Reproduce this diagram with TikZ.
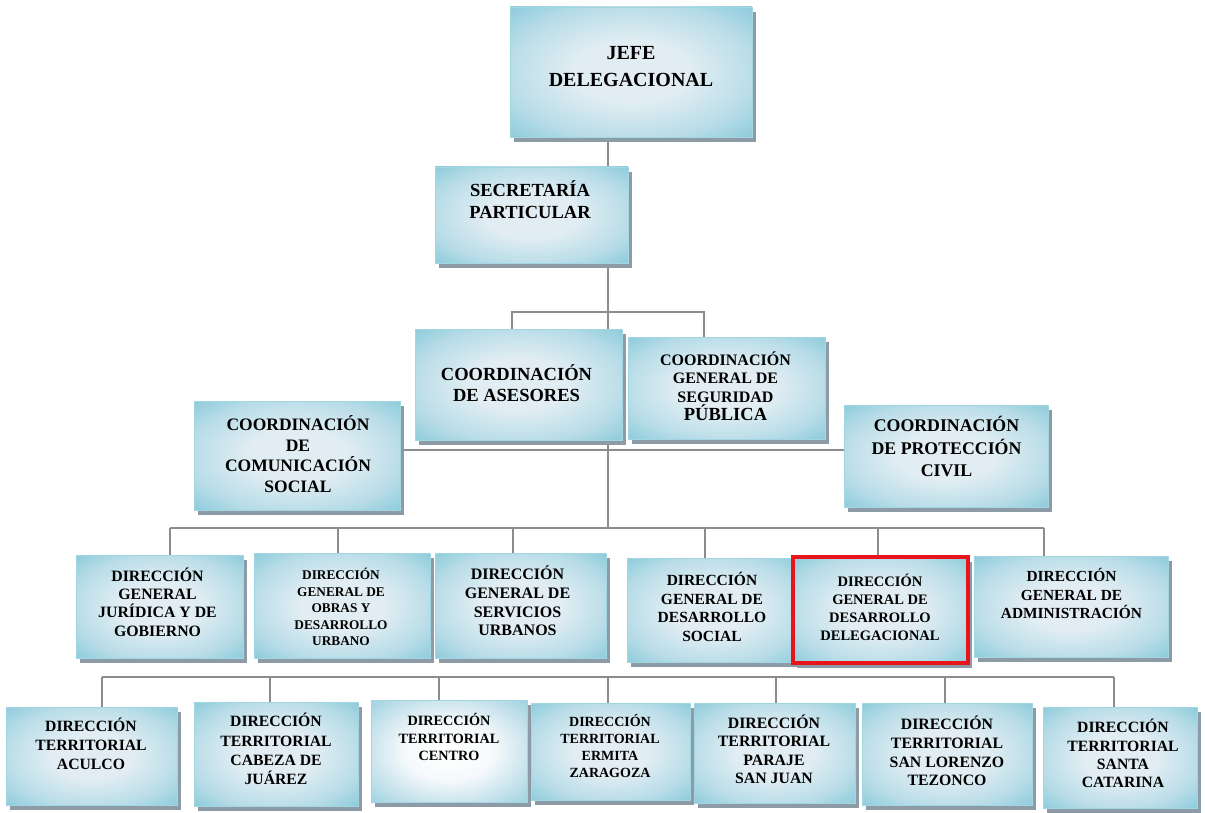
\documentclass[tikz,border=0pt]{standalone}
\usepackage{fontspec}
\setmainfont{Liberation Serif}
\usetikzlibrary{shadows,backgrounds}

\definecolor{azul}{HTML}{8FCCDC}
\definecolor{palido}{HTML}{E1EDF3}
\definecolor{borde}{HTML}{A3D6E3}
\definecolor{sombra}{HTML}{8D9BA7}
\definecolor{linea}{HTML}{8C8C8C}
\definecolor{rojo}{HTML}{E8141B}

\pgfdeclareradialshading{cajas}{\pgfpoint{0bp}{0bp}}{color(0bp)=(palido); color(12bp)=(palido); color(26bp)=(palido!50!azul); color(35bp)=(azul); color(50bp)=(azul)}
\pgfdeclareradialshading{cajaclara}{\pgfpoint{0bp}{0bp}}{color(0bp)=(white); color(14bp)=(white!70!palido); color(26bp)=(palido!70!azul); color(35bp)=(azul!85!white); color(50bp)=(azul!85!white)}

\newcommand{\letra}[2]{\fontsize{#1pt}{#2pt}\selectfont\bfseries}

\tikzset{
  caja/.style={shade, shading=cajas, draw=borde, line width=0.8pt, inner sep=0pt,
    drop shadow={shadow xshift=4pt, shadow yshift=-5pt, fill=sombra, opacity=1}},
  rotulo/.style={align=center, inner sep=0pt},
  conector/.style={draw=linea, line width=1.6pt},
}

\begin{document}
\begin{tikzpicture}[x=1pt,y=-1pt]
\useasboundingbox (0,0) rectangle (1205,813);

% jefe y secretaria
\node[caja, minimum width=242pt, minimum height=130pt] (jefe) at (631,72) {};
\node[rotulo, font=\letra{20}{27}] (tjefe) at (631,67) {JEFE\\DELEGACIONAL};
\node[caja, minimum width=193pt, minimum height=96pt] (sec) at (531.5,215) {};
\node[rotulo, font=\letra{18.5}{22}] (tsec) at (530,200) {SECRETARÍA\\PARTICULAR};

% coordinaciones
\node[caja, minimum width=207pt, minimum height=111pt] (ase) at (518.5,384.5) {};
\node[rotulo, font=\letra{18.5}{21}] (tase) at (516.5,383) {COORDINACIÓN\\DE ASESORES};
\node[caja, minimum width=197pt, minimum height=102pt] (seg) at (726.5,388) {};
\node[rotulo, font=\letra{16}{18.5}] (tseg) at (725.5,386) {COORDINACIÓN\\GENERAL DE\\SEGURIDAD\\{\letra{18.5}{19}PÚBLICA}};
\node[caja, minimum width=206pt, minimum height=109pt] (com) at (297,455.5) {};
\node[rotulo, font=\letra{17.5}{20.7}] (tcom) at (298,454) {COORDINACIÓN\\DE\\COMUNICACIÓN\\SOCIAL};
\node[caja, minimum width=204pt, minimum height=102pt] (pro) at (946,456) {};
\node[rotulo, font=\letra{17.8}{22.5}] (tpro) at (946.5,446.5) {COORDINACIÓN\\DE PROTECCIÓN\\CIVIL};

% direcciones generales
\node[caja, minimum width=167pt, minimum height=103pt] (jur) at (159.5,606.5) {};
\node[rotulo, font=\letra{15.8}{18.3}] (tjur) at (157.5,602) {DIRECCIÓN\\GENERAL\\JURÍDICA Y DE\\GOBIERNO};
\node[caja, minimum width=176pt, minimum height=105pt] (obr) at (342,605.5) {};
\node[rotulo, font=\letra{13.3}{16.4}] (tobr) at (341,607) {DIRECCIÓN\\GENERAL DE\\OBRAS Y\\DESARROLLO\\URBANO};
\node[caja, minimum width=171pt, minimum height=105pt] (ser) at (520.5,605.5) {};
\node[rotulo, font=\letra{16}{18.7}] (tser) at (517.5,601) {DIRECCIÓN\\GENERAL DE\\SERVICIOS\\URBANOS};
\node[caja, minimum width=173pt, minimum height=104pt] (soc) at (713.5,610) {};
\node[rotulo, font=\letra{15.5}{18.7}] (tsoc) at (712,607) {DIRECCIÓN\\GENERAL DE\\DESARROLLO\\SOCIAL};
\node[caja, draw=rojo, line width=4pt, minimum width=175pt, minimum height=106pt] (del) at (880.5,610) {};
\node[rotulo, font=\letra{14.5}{18}] (tdel) at (880,607) {DIRECCIÓN\\GENERAL DE\\DESARROLLO\\DELEGACIONAL};
\node[caja, minimum width=194pt, minimum height=101pt] (adm) at (1071,606.5) {};
\node[rotulo, font=\letra{15.4}{18.5}] (tadm) at (1071.5,593.5) {DIRECCIÓN\\GENERAL DE\\ADMINISTRACIÓN};

% direcciones territoriales
\node[caja, minimum width=171pt, minimum height=98pt] (acu) at (91.5,756) {};
\node[rotulo, font=\letra{15.7}{19}] (tacu) at (91,744) {DIRECCIÓN\\TERRITORIAL\\ACULCO};
\node[caja, minimum width=164pt, minimum height=104pt] (cab) at (276,754) {};
\node[rotulo, font=\letra{15.7}{19.3}] (tcab) at (276,749) {DIRECCIÓN\\TERRITORIAL\\CABEZA DE\\JUÁREZ};
\node[caja, shading=cajaclara, minimum width=156pt, minimum height=102pt] (cen) at (449,751) {};
\node[rotulo, font=\letra{14.2}{17.5}] (tcen) at (449,737) {DIRECCIÓN\\TERRITORIAL\\CENTRO};
\node[caja, minimum width=159pt, minimum height=97pt] (erm) at (610.5,751.5) {};
\node[rotulo, font=\letra{14}{17}] (term) at (610,746) {DIRECCIÓN\\TERRITORIAL\\ERMITA\\ZARAGOZA};
\node[caja, minimum width=161pt, minimum height=100pt] (par) at (774.5,753) {};
\node[rotulo, font=\letra{15.8}{18.5}] (tpar) at (774,749.5) {DIRECCIÓN\\TERRITORIAL\\PARAJE\\SAN JUAN};
\node[caja, minimum width=170pt, minimum height=102pt] (slo) at (947,754) {};
\node[rotulo, font=\letra{15.8}{18.7}] (tslo) at (947,751) {DIRECCIÓN\\TERRITORIAL\\SAN LORENZO\\TEZONCO};
\node[caja, minimum width=154pt, minimum height=101pt] (sca) at (1120,757.5) {};
\node[rotulo, font=\letra{15.7}{18.3}] (tsca) at (1123,753.5) {DIRECCIÓN\\TERRITORIAL\\SANTA\\CATARINA};

% puntos de las lineas
\coordinate (t1) at (608,312);
\coordinate (a1) at (512,312);
\coordinate (a2) at (704,312);
\coordinate (t2) at (608,450);
\coordinate (t3) at (608,528);
\coordinate (d1) at (170,528);
\coordinate (d2) at (338,528);
\coordinate (d3) at (513,528);
\coordinate (d4) at (705,528);
\coordinate (d5) at (878,528);
\coordinate (d6) at (1044,528);
\coordinate (e1) at (102,677);
\coordinate (e2) at (270,677);
\coordinate (e3) at (439,677);
\coordinate (e4) at (608,677);
\coordinate (e5) at (776,677);
\coordinate (e6) at (945,677);
\coordinate (e7) at (1114,677);

\begin{pgfonlayer}{background}
\draw[conector] (jefe.south -| t1) -- (t3);
\draw[conector] (a1 |- ase.north) -- (a1) -- (a2) -- (a2 |- seg.north);
\draw[conector] (com.east |- t2) -- (pro.west |- t2);
\draw[conector] (d1) -- (d6);
\foreach \p/\n in {d1/jur, d2/obr, d3/ser, d4/soc, d5/del, d6/adm}
  \draw[conector] (\p) -- (\p |- \n.north);
\draw[conector] (e1) -- (e7);
\foreach \p/\n in {e1/acu, e2/cab, e3/cen, e4/erm, e5/par, e6/slo, e7/sca}
  \draw[conector] (\p) -- (\p |- \n.north);
\end{pgfonlayer}
\end{tikzpicture}
\end{document}
